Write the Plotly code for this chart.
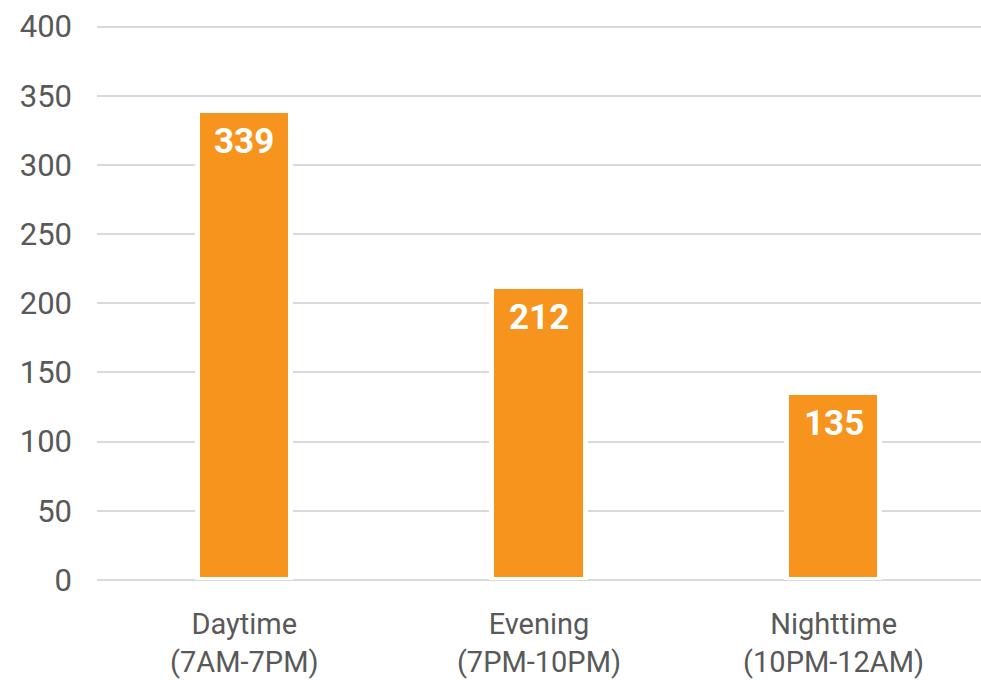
import plotly.graph_objects as go

categories = ["Daytime<br>(7AM-7PM)", "Evening<br>(7PM-10PM)", "Nighttime<br>(10PM-12AM)"]
values = [339, 212, 135]
y_ticks = [0, 50, 100, 150, 200, 250, 300, 350, 400]

FONT = "Roboto, Liberation Sans, sans-serif"
ORANGE = "#F7941E"
GRAY = "#595959"

fig = go.Figure()
fig.add_trace(go.Bar(
    x=categories, y=values,
    marker=dict(color=ORANGE, line=dict(color="white", width=5)),
    width=0.316,
    hoverinfo="skip",
))

for c, v in zip(categories, values):
    fig.add_annotation(
        x=c, y=v, text=f"<b>{v}</b>", showarrow=False,
        yanchor="top", yshift=-8,
        font=dict(family=FONT, size=35, color="white"),
    )

fig.update_layout(
    width=981, height=680,
    margin=dict(l=97, r=0, t=21, b=100, autoexpand=False),
    paper_bgcolor="white", plot_bgcolor="white",
    showlegend=False,
    font=dict(family=FONT, color=GRAY),
    bargap=0,
)
fig.update_xaxes(
    showgrid=False, showline=False, zeroline=False,
    tickfont=dict(family=FONT, size=29, color=GRAY),
    ticklabelstandoff=24,
    automargin=False,
)
fig.update_yaxes(
    range=[0, 404], tickvals=y_ticks,
    showgrid=True, gridcolor="#D9D9D9", gridwidth=2,
    zeroline=True, zerolinecolor="#D9D9D9", zerolinewidth=2,
    showline=False,
    tickfont=dict(family=FONT, size=31, color=GRAY),
    ticklabelstandoff=24,
    automargin=False,
)

fig.write_html(
    "out.html",
    config={"displayModeBar": False},
    post_script="document.body.style.margin='0';document.body.style.overflow='hidden';",
)
